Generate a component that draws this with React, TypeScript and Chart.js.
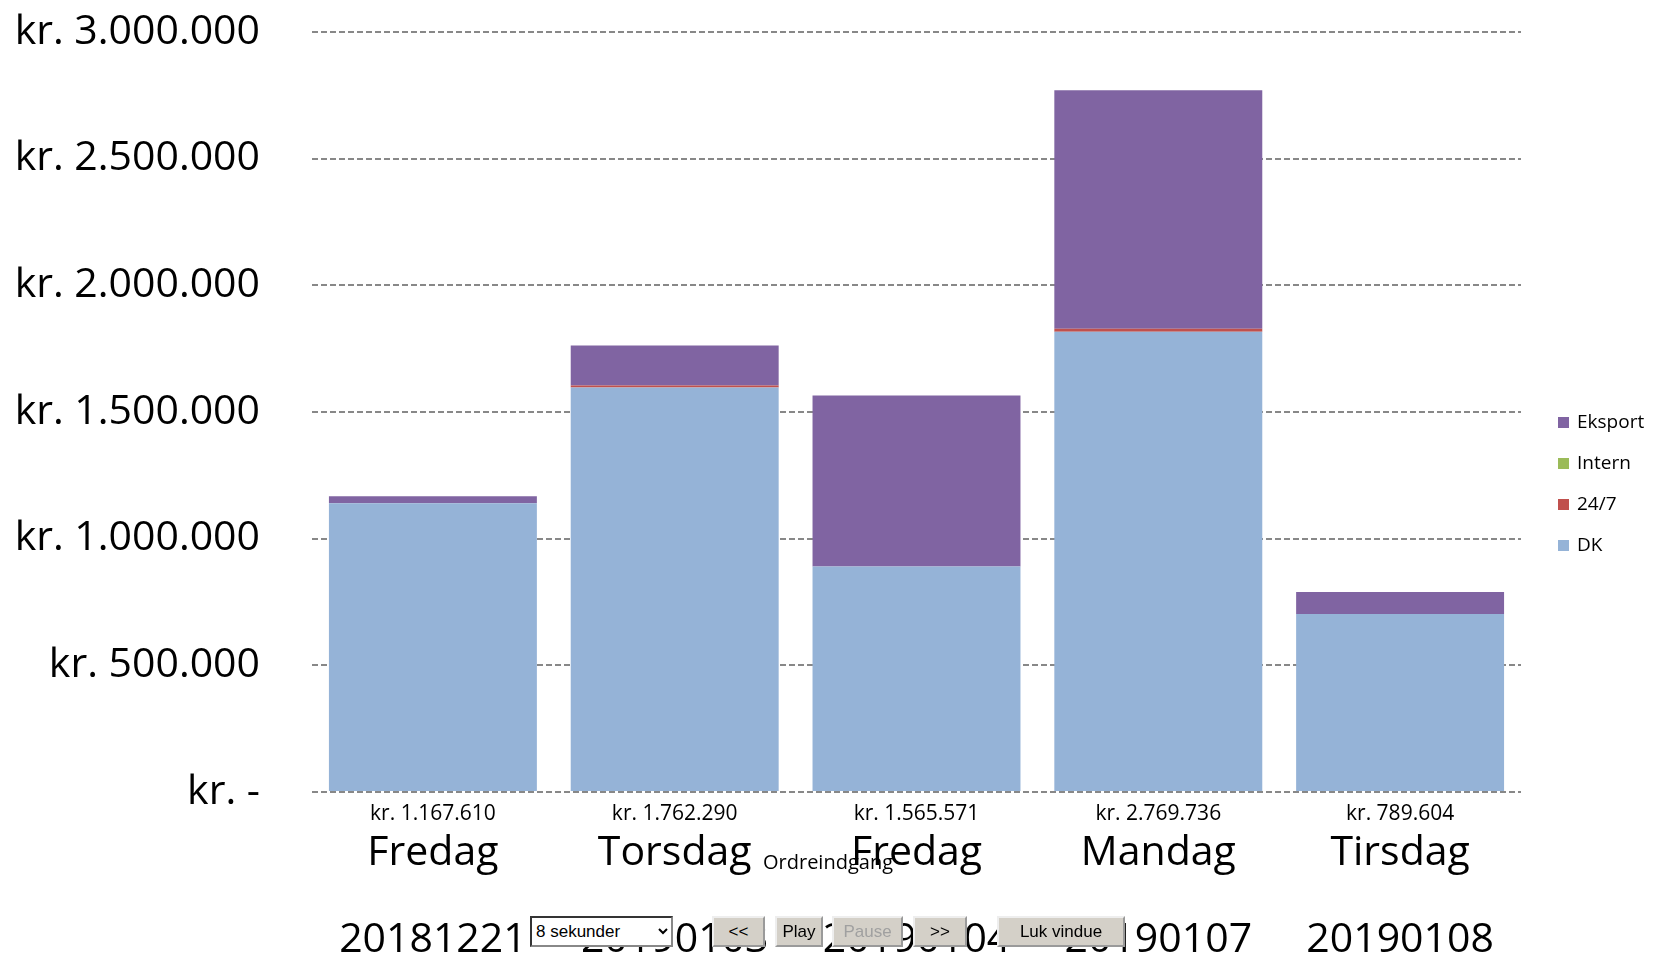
import React, { useEffect, useRef } from "react";
import { Chart, registerables } from "chart.js";

Chart.register(...registerables);

const days = ["Fredag", "Torsdag", "Fredag", "Mandag", "Tirsdag"];
const dates = ["20181221", "20190103", "20190104", "20190107", "20190108"];
const totalLabels = ["kr. 1.167.610", "kr. 1.762.290", "kr. 1.565.571", "kr. 2.769.736", "kr. 789.604"];

const dkValues = [1140000, 1597000, 890000, 1817000, 703000];
const h247Values = [0, 8000, 0, 12000, 0];
const internValues = [0, 0, 0, 0, 0];
const eksportValues = [27610, 157290, 675571, 940736, 86604];

const seriesNames = ["DK", "24/7", "Intern", "Eksport"];
const seriesColors = ["#95B3D7", "#C0504D", "#9BBB59", "#8064A2"];

const yTickLabels = ["kr. -", "kr. 500.000", "kr. 1.000.000", "kr. 1.500.000", "kr. 2.000.000", "kr. 2.500.000", "kr. 3.000.000"];
const axisTitle = "Ordreindgang";

const FONT = "'Open Sans', sans-serif";

const labelsPlugin = {
  id: "customLabels",
  afterDraw(chart: any) {
    const ctx = chart.ctx;
    const xs = chart.scales.x;
    const bottom = chart.chartArea.bottom;
    ctx.save();
    ctx.fillStyle = "#000";
    ctx.textAlign = "center";
    ctx.textBaseline = "middle";
    days.forEach((d, i) => {
      const px = xs.getPixelForValue(i);
      ctx.font = `21px ${FONT}`;
      ctx.fillText(totalLabels[i], px, bottom + 22);
      ctx.font = `41px ${FONT}`;
      ctx.fillText(d, px, bottom + 61);
      ctx.fillText(dates[i], px, bottom + 148);
    });
    ctx.font = `20px ${FONT}`;
    ctx.fillText(axisTitle, 828, bottom + 71);

    // legend (reverse order of stacking)
    const ds = chart.data.datasets;
    ctx.textAlign = "left";
    ctx.font = `19px ${FONT}`;
    const startY = 423;
    const gap = 41;
    for (let k = 0; k < ds.length; k++) {
      const d = ds[ds.length - 1 - k];
      const cy = startY + k * gap;
      ctx.fillStyle = d.backgroundColor;
      ctx.fillRect(1558, cy - 6, 11, 11);
      ctx.fillStyle = "#000";
      ctx.fillText(d.label, 1577, cy);
    }
    ctx.restore();
  },
};

export default function App() {
  const ref = useRef<HTMLCanvasElement | null>(null);

  useEffect(() => {
    if (!ref.current) return;
    const seriesValues = [dkValues, h247Values, internValues, eksportValues];
    const chart = new Chart(ref.current, {
      type: "bar",
      data: {
        labels: days,
        datasets: seriesNames.map((name, i) => ({
          label: name,
          data: seriesValues[i],
          backgroundColor: seriesColors[i],
          borderWidth: 0,
          categoryPercentage: 1,
          barPercentage: 0.86,
        })),
      },
      options: {
        responsive: false,
        animation: false,
        layout: { padding: { top: 32, bottom: 174, right: 132, left: 0 } },
        plugins: {
          legend: { display: false },
          tooltip: { enabled: false },
          title: { display: false },
        },
        scales: {
          x: {
            stacked: true,
            display: false,
          },
          y: {
            stacked: true,
            min: 0,
            max: 3000000,
            afterFit: (s: any) => {
              s.width = 312;
              s.paddingTop = 0;
              s.paddingBottom = 0;
            },
            ticks: {
              stepSize: 500000,
              padding: 52,
              color: "#000",
              font: { family: "'Open Sans', sans-serif", size: 41 },
              callback: (_v: any, idx: number) => yTickLabels[idx],
            },
            grid: {
              color: "#888888",
              lineWidth: 2,
              drawTicks: false,
            },
            border: { display: false, dash: [6, 3] },
          },
        },
      },
      plugins: [labelsPlugin],
    });
    return () => chart.destroy();
  }, []);

  const btn: React.CSSProperties = {
    position: "absolute",
    top: 916,
    height: 31,
    background: "#D4D0C8",
    border: "2px outset #eeeeee",
    fontFamily: "'Liberation Sans', Arial, sans-serif",
    fontSize: 17,
    padding: 0,
    color: "#000",
    boxSizing: "border-box",
  };

  return (
    <div style={{ position: "fixed", left: 0, top: 0, width: 1653, height: 966, background: "#fff" }}>
      <canvas ref={ref} width={1653} height={966} style={{ position: "absolute", left: 0, top: 0 }} />
      <select
        defaultValue="8"
        style={{
          position: "absolute",
          left: 530,
          top: 916,
          width: 143,
          height: 31,
          fontFamily: "'Liberation Sans', Arial, sans-serif",
          fontSize: 17,
          border: "2px inset #888",
          background: "#fff",
          boxSizing: "border-box",
        }}
      >
        <option value="8">8 sekunder</option>
      </select>
      <button style={{ ...btn, left: 712, width: 53 }}>{"<<"}</button>
      <button style={{ ...btn, left: 775, width: 48 }}>Play</button>
      <button style={{ ...btn, left: 832, width: 71, color: "#a0a0a0" }} disabled>
        Pause
      </button>
      <button style={{ ...btn, left: 913, width: 54 }}>{">>"}</button>
      <button style={{ ...btn, left: 997, width: 128 }}>Luk vindue</button>
    </div>
  );
}
